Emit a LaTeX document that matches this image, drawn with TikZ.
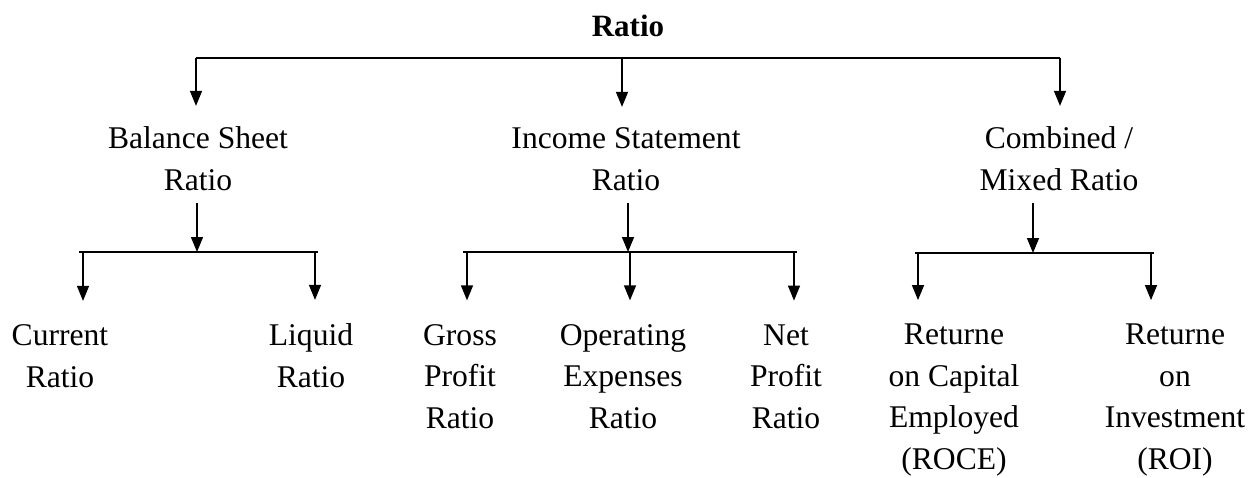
\documentclass[tikz,border=0pt]{standalone}
\usepackage{fontspec}
\setmainfont{Liberation Serif}
\usetikzlibrary{arrows.meta}

\begin{document}
\begin{tikzpicture}[x=0.5pt,y=-0.5pt,line width=0.7pt,
    >={Triangle[width=6pt,length=7.5pt]},
    every node/.style={align=center,inner sep=0pt,anchor=base,
      font=\fontsize{15.8}{20.75}\selectfont},
    down/.style={->,shorten >=10pt},
    leaf/.style={->,shorten >=11.5pt},
    up/.style={->,shorten <=6pt}]
  \useasboundingbox (0,0) rectangle (1257,477);

  \node[font=\fontsize{15.5}{20.75}\selectfont\bfseries] (R) at (628,36) {Ratio};

  % base anchor sits on the last line
  \node (B) at (198,190) {Balance Sheet\\Ratio};
  \node (I) at (626,190) {Income Statement\\Ratio};
  \node (C) at (1059,190) {Combined /\\Mixed Ratio};

  \node (CR) at (60,387) {Current\\Ratio};
  \node (LR) at (311,387) {Liquid\\Ratio};
  \node (GP) at (460,428) {Gross\\Profit\\Ratio};
  \node (OE) at (623,428) {Operating\\Expenses\\Ratio};
  \node (NP) at (786,428) {Net\\Profit\\Ratio};
  \node (RC) at (954,469) {Returne\\on Capital\\Employed\\(ROCE)};
  \node (RI) at (1175,469) {Returne\\on\\Investment\\(ROI)};

  % top level
  \coordinate (t1) at (196,58);
  \coordinate (t2) at (622,58);
  \coordinate (t3) at (1060,58);
  \draw (t1) -- (t3);
  \draw[down] (t1) -- (t1 |- B.north);
  \draw[down] (t2) -- (t2 |- I.north);
  \draw[down] (t3) -- (t3 |- C.north);

  % balance sheet
  \coordinate (b0) at (197,252);
  \coordinate (b1) at (83,252);
  \coordinate (b2) at (315,252);
  \draw[up] (b0 |- B.south) -- (b0);
  \draw ([xshift=-2pt]b1) -- ([xshift=1.5pt]b2);
  \draw[leaf] (b1) -- (b1 |- CR.north);
  \draw[leaf] (b2) -- (b2 |- LR.north);

  % income statement
  \coordinate (i0) at (628,252);
  \coordinate (i1) at (467,252);
  \coordinate (i2) at (630,252);
  \coordinate (i3) at (794,252);
  \draw[up] (i0 |- I.south) -- (i0);
  \draw ([xshift=-2pt]i1) -- ([xshift=1.5pt]i3);
  \draw[leaf] (i1) -- (i1 |- GP.north);
  \draw[leaf] (i2) -- (i2 |- OE.north);
  \draw[leaf] (i3) -- (i3 |- NP.north);

  % combined
  \coordinate (c0) at (1033,253);
  \coordinate (c1) at (918,253);
  \coordinate (c2) at (1151,253);
  \draw[up] (c0 |- C.south) -- (c0);
  \draw ([xshift=-1.5pt]c1) -- ([xshift=1.5pt]c2);
  \draw[leaf] (c1) -- (c1 |- RC.north);
  \draw[leaf] (c2) -- (c2 |- RI.north);
\end{tikzpicture}
\end{document}
